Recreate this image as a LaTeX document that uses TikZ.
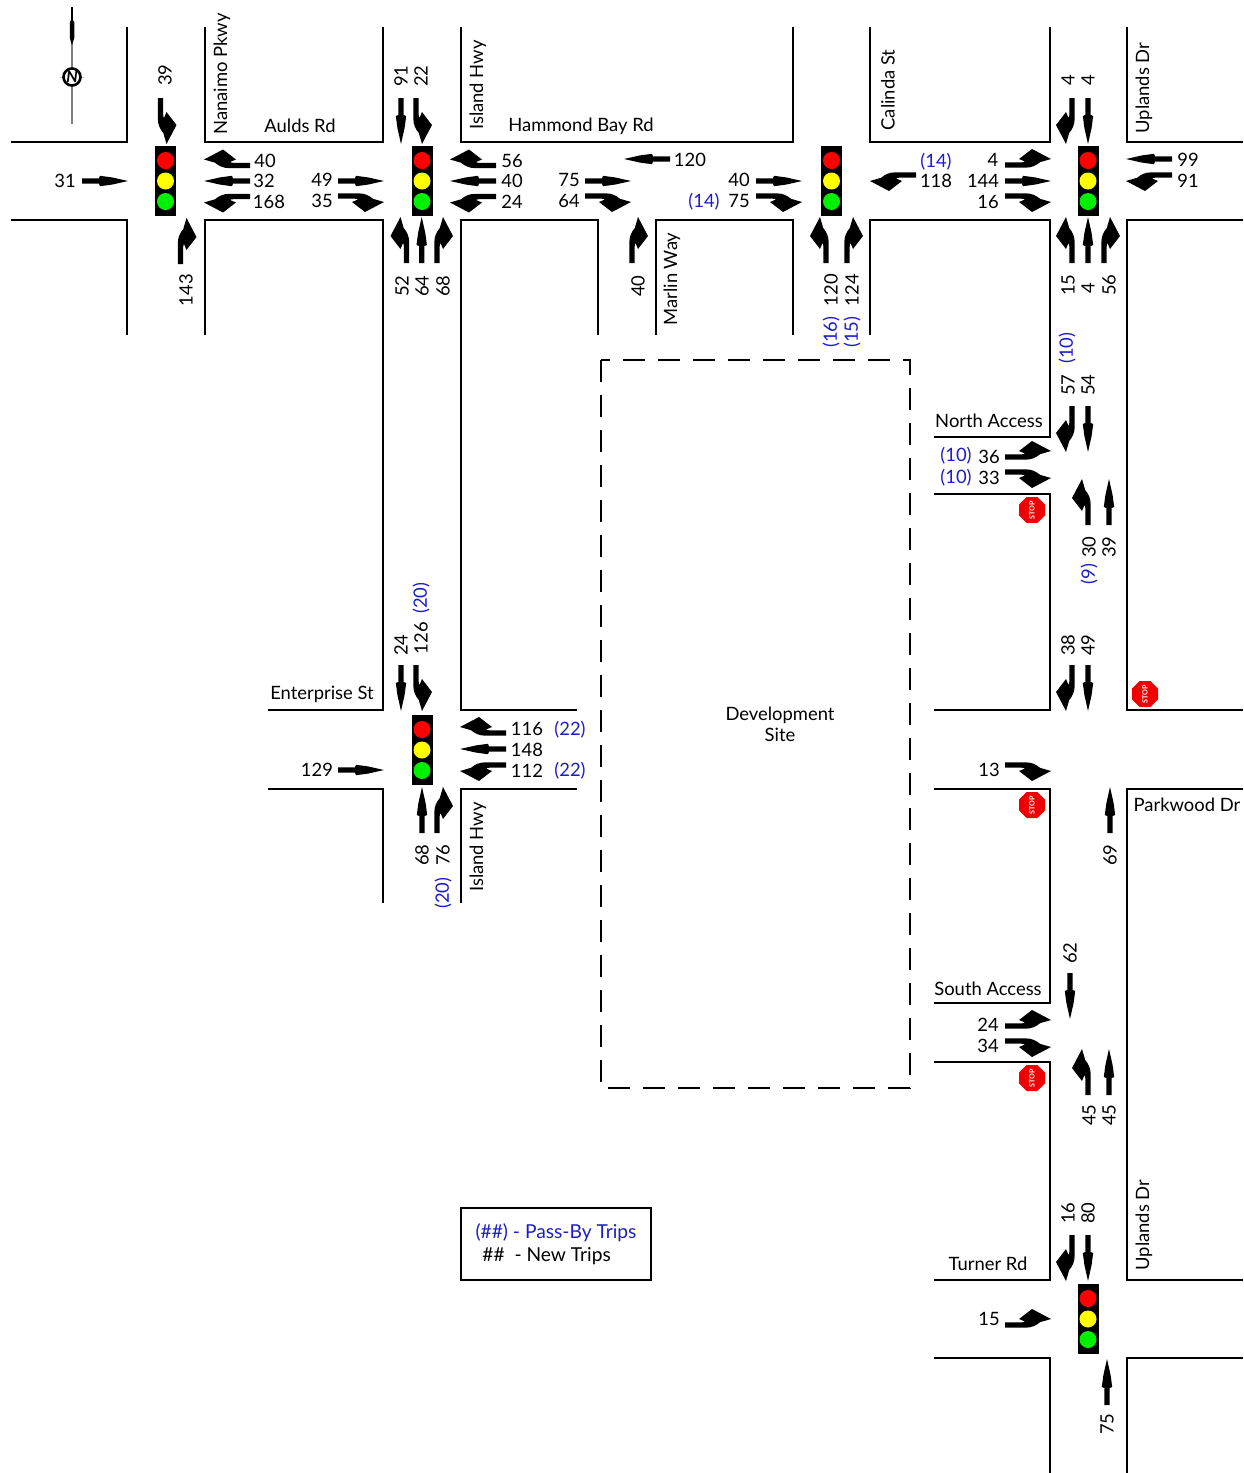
\documentclass[tikz,border=0pt]{standalone}
\usepackage{fontspec}
\setmainfont{Lato}
\usepackage{xcolor}
\usetikzlibrary{shapes.geometric}
\definecolor{tripblue}{HTML}{1C1CC8}
\definecolor{signalred}{HTML}{FF0000}
\definecolor{signalyellow}{HTML}{FFFF00}
\definecolor{signalgreen}{HTML}{00F000}
\definecolor{stopred}{HTML}{F00000}
\tikzset{
  roadline/.style={black, line width=0.85pt},
  sitebound/.style={black, line width=0.7pt, dash pattern=on 11pt off 6.5pt},
  countnode/.style={inner sep=0pt, text=black, font=\fontsize{9.2}{10.4}\selectfont},
  tripnode/.style={countnode, text=tripblue},
  legendnode/.style={countnode, font=\fontsize{9.6}{10.4}\selectfont},
  stopnode/.style={regular polygon, regular polygon sides=8, fill=stopred, minimum size=11.8pt, inner sep=0pt, text=white, rotate=90, font=\fontsize{3.6}{4}\selectfont\bfseries},
  pics/thruarrow/.style={code={
    \fill (0,-2.7) -- (17,-2.7) -- (18,-5.2) -- (30,-3.6) -- (46,0) -- (30,3.6) -- (18,5.2) -- (17,2.7) -- (0,2.7) -- cycle;
  }},
  pics/rturn/.style={code={
    \fill (0,-2.7) -- (20,-2.7) .. controls (27,-2.7) and (31,-0.5) .. (35,2.8) -- (46,6) -- (27,16) -- (14,6) -- (20,3.5) .. controls (19,2.7) and (18,2.7) .. (16,2.7) -- (0,2.7) -- cycle;
  }},
  pics/lturn/.style={code={
    \fill (0,2.7) -- (20,2.7) .. controls (27,2.7) and (31,0.5) .. (35,-2.8) -- (46,-6) -- (27,-16) -- (14,-6) -- (20,-3.5) .. controls (19,-2.7) and (18,-2.7) .. (16,-2.7) -- (0,-2.7) -- cycle;
  }},
  pics/signal/.style={code={
    \fill[black] (-10.5,-35) rectangle (10.5,35);
    \fill[signalred] (0,-20.5) circle (8.5);
    \fill[signalyellow] (0,0) circle (8.5);
    \fill[signalgreen] (0,20.5) circle (8.5);
  }}
}
\begin{document}
\begin{tikzpicture}[x=0.5pt,y=-0.5pt]
  \useasboundingbox (0,0) rectangle (1243,1473);
  % roads
  \draw[roadline] (127,27) -- (127,142) -- (11,142);
  \draw[roadline] (11,220) -- (127,220) -- (127,335);
  \draw[roadline] (205,27) -- (205,142) -- (383,142) -- (383,27);
  \draw[roadline] (205,335) -- (205,220) -- (383,220) -- (383,710) -- (268,710);
  \draw[roadline] (268,789) -- (383,789) -- (383,903);
  \draw[roadline] (461,27) -- (461,142) -- (793,142) -- (793,27);
  \draw[roadline] (598,335) -- (598,220) -- (461,220) -- (461,710) -- (577,710);
  \draw[roadline] (577,789) -- (461,789) -- (461,903);
  \draw[roadline] (656,335) -- (656,220) -- (793,220) -- (793,335);
  \draw[roadline] (870,27) -- (870,142) -- (1050,142) -- (1050,27);
  \draw[roadline] (870,335) -- (870,220) -- (1050,220) -- (1050,437) -- (934,437);
  \draw[roadline] (934,494) -- (1050,494) -- (1050,710) -- (934,710);
  \draw[roadline] (934,789) -- (1050,789) -- (1050,1003) -- (934,1003);
  \draw[roadline] (934,1062) -- (1050,1062) -- (1050,1280) -- (934,1280);
  \draw[roadline] (934,1358) -- (1050,1358) -- (1050,1473);
  \draw[roadline] (1127,27) -- (1127,142) -- (1243,142);
  \draw[roadline] (1243,220) -- (1127,220) -- (1127,710) -- (1243,710);
  \draw[roadline] (1243,789) -- (1127,789) -- (1127,1280) -- (1243,1280);
  \draw[roadline] (1243,1358) -- (1127,1358) -- (1127,1473);
  \draw[sitebound] (601,360) rectangle (910,1088);
  \draw[roadline] (461,1208) rectangle (651,1280);
  % north arrow
  \draw[black!50,line width=0.6pt] (72,7) -- (72,124);
  \draw[black!25,line width=0.4pt] (60,77) -- (84,77);
  \fill (71.2,7) -- (72.8,7) -- (72.8,20) -- (74.3,22) -- (74.3,38) -- (72,45) -- (69.8,38) -- (69.8,22) -- (71.2,20) -- cycle;
  \draw[black,line width=1.3pt,fill=white] (72,77) circle (8.5);
  \node[inner sep=0pt,font=\fontsize{8}{8}\selectfont\bfseries\itshape] (northN) at (72,77) {N};
  % signals
  \foreach \xx/\yy in {165.5/181,422/181,831.5/181,1088/181,422/750,1088/1319}{
    \pic at (\xx,\yy) {signal};
  }
  % arrows
  \foreach \xx/\yy/\rr in {82/181/0,250/181/180,338/181/0,401/98/270,496/181/180,421.7/263/90,585/181/0,670/159/180,756/181/0,1005/181/0,1088/98/270,1172/159/180,1088/263/90,1088/406/270,1109/525/90,1088/665/270,1110/833/90,1070/973/270,1109/1095/90,1088/1235/270,1107/1405/90,401/665/270,338/770/0,506/749/180,422/833/90}{
    \pic[rotate=\rr] at (\xx,\yy) {thruarrow};
  }
  \foreach \xx/\yy/\rr in {250/165.5/180,180.5/264/90,338/196/0,496/165.5/180,437/263/90,585/196/0,632/263/90,756/196/0,847/263/90,1072/98/270,1005/196/0,1104/263/90,1072/406/270,1005/472/0,1072/665/270,1005/765/0,1005/1041/0,1072/1235/270,506/733/180,437/833/90}{
    \pic[rotate=\rr] at (\xx,\yy) {rturn};
  }
  \foreach \xx/\yy/\rr in {160.5/98/270,250/196.5/180,416/98/270,496/196.5/180,406.5/263/90,916/175/180,826/263/90,1005/165/0,1172/175/180,1072/263/90,1005/457/0,1088/525/90,1005/1026/0,1088/1095/90,1005/1325/0,416/665/270,506/765/180}{
    \pic[rotate=\rr] at (\xx,\yy) {lturn};
  }
  % stop signs
  \foreach \xx/\yy in {1032/510,1145/694,1032/805,1032/1078}{
    \node[stopnode] (stop\yy) at (\xx,\yy) {STOP};
  }
  % volumes
  \foreach \xx/\yy/\tt in {65/181/31,265/161/40,264/181/32,269/202/168,322/180/49,322/201/35,512/161/56,512/181/40,512/202/24,569/180/75,569/201/64,690/160/120,739/180/40,739/201/75,936/181/118,993/160/4,983/181/144,988/202/16,1188/160/99,1188/181/91,989/457/36,989/478/33,989/770/13,988/1025/24,988/1046/34,989/1319/15,317/770/129,527/729/116,527/750/148,527/771/112}{
    \node[countnode] (count-\xx-\yy) at (\xx,\yy) {\tt};
  }
  \foreach \xx/\yy/\tt in {704/201.5/(14),936/161.5/(14),956/456/(10),956/478/(10),570/730/(22),570/770.5/(22)}{
    \node[tripnode] (trip-\xx-\yy) at (\xx,\yy) {\tt};
  }
  \foreach \xx/\yy/\tt in {165/75/39,186/290/143,401/76/91,421/76/22,402/286/52,422/286/64,443/286/68,638/286/40,831/290/120,852/290/124,1068/80/4,1088/80/4,1068/285/15,1088/288/4,1109/285/56,1068/385/57,1088/385/54,1089/547/30,1109/547/39,1068/645/38,1088/645/49,1110/855/69,1070/953/62,1089/1115/45,1109/1115/45,1068/1213/16,1088/1213/80,1107/1424/75,401/645/24,421/638/126,422/855/68,443/855/76}{
    \node[countnode,rotate=90] (count-\xx-\yy) at (\xx,\yy) {\tt};
  }
  \foreach \xx/\yy/\tt in {831/332/(16),852/332/(15),1067/348/(10),1089/574/(9),421/598/(20),443/893/(20)}{
    \node[tripnode,rotate=90] (trip-\xx-\yy) at (\xx,\yy) {\tt};
  }
  % street names
  \foreach \xx/\yy/\tt in {222/74/Nanaimo Pkwy,478/85/Island Hwy,888/90/Calinda St,1144/88/Uplands Dr,672/279/Marlin Way,478/847/Island Hwy,1144/1225/Uplands Dr}{
    \node[countnode,rotate=90] (street-\xx-\yy) at (\xx,\yy) {\tt};
  }
  \foreach \xx/\yy/\tt in {300/126/Aulds Rd,581/126/Hammond Bay Rd,989/420.5/North Access,322/694.5/Enterprise St,988/989/South Access,988/1263.5/Turner Rd,1187/804.5/Parkwood Dr}{
    \node[countnode] (street-\xx-\yy) at (\xx,\yy) {\tt};
  }
  \node[countnode,align=center] (devsite) at (780,724.5) {Development\\Site};
  \node[legendnode,text=tripblue] (legendblue) at (556,1233) {(\#\#) - Pass-By Trips};
  \node[legendnode,anchor=west] (legendblack) at (482,1256) {\#\#\ \ - New Trips};
\end{tikzpicture}
\end{document}
